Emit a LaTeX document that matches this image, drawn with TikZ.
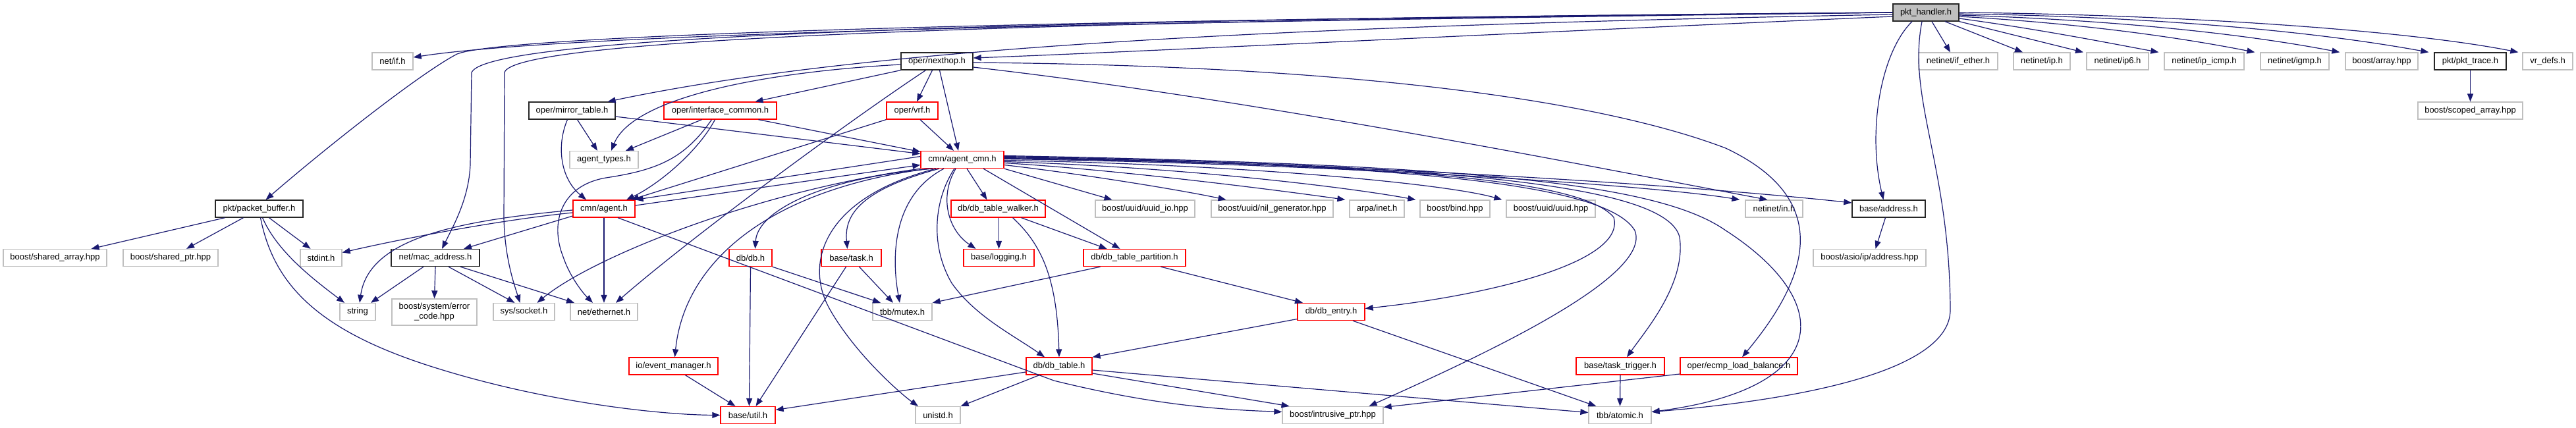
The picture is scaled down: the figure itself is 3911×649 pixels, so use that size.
\documentclass[tikz,border=0pt]{standalone}
\usepackage{fontspec}
\setmainfont{Liberation Sans}
\usetikzlibrary{arrows.meta}
\definecolor{ngray}{HTML}{BFBFBF}
\definecolor{nred}{HTML}{FF0000}
\definecolor{eblue}{HTML}{191970}
\tikzset{
  nd/.style={rectangle, line width=1.3pt, fill=white, inner sep=0pt, minimum height=26pt,
    font=\fontsize{13}{15}\selectfont, text=black},
  gb/.style={nd, draw=ngray},
  rb/.style={nd, draw=nred},
  kb/.style={nd, draw=black!85},
  rootb/.style={nd, draw=black!85, fill=ngray},
  lnk/.style={draw=eblue, line width=1.2pt, -{Triangle[length=12pt,width=9pt]}},
}
\begin{document}
\begin{tikzpicture}[x=1pt,y={(0pt,-1pt)}]
\path[use as bounding box, fill=white] (0,0) rectangle (3911,649);
% nodes
\node[rootb, minimum width=100pt] (P) at (2924,19) {pkt\_handler.h};
\node[gb, minimum width=62pt] (ifh) at (596,93) {net/if.h};
\node[kb, minimum width=109pt] (nh) at (1422.5,93) {oper/nexthop.h};
\node[gb, minimum width=120pt] (ifeth) at (2973,93) {netinet/if\_ether.h};
\node[gb, minimum width=86pt] (ip) at (3100,93) {netinet/ip.h};
\node[gb, minimum width=94pt] (ipsix) at (3215,93) {netinet/ip6.h};
\node[gb, minimum width=121pt] (icmp) at (3346.5,93) {netinet/ip\_icmp.h};
\node[gb, minimum width=104pt] (igmp) at (3484,93) {netinet/igmp.h};
\node[gb, minimum width=110pt] (barr) at (3616,93) {boost/array.hpp};
\node[kb, minimum width=109pt] (trace) at (3750.5,93) {pkt/pkt\_trace.h};
\node[gb, minimum width=76pt] (vrdefs) at (3868,93) {vr\_defs.h};
\node[kb, minimum width=131pt] (mt) at (868.5,168) {oper/mirror\_table.h};
\node[rb, minimum width=171pt] (ic) at (1093.5,168) {oper/interface\_common.h};
\node[rb, minimum width=78pt] (vrf) at (1385,168) {oper/vrf.h};
\node[gb, minimum width=159pt] (scoped) at (3750.5,168) {boost/scoped\_array.hpp};
\node[gb, minimum width=104pt] (types) at (917,242.5) {agent\_types.h};
\node[rb, minimum width=126pt] (C) at (1461,242.5) {cmn/agent\_cmn.h};
\node[kb, minimum width=133pt] (pb) at (393.5,317) {pkt/packet\_buffer.h};
\node[rb, minimum width=94pt] (ag) at (917,317) {cmn/agent.h};
\node[rb, minimum width=143pt] (walker) at (1515.5,317) {db/db\_table\_walker.h};
\node[gb, minimum width=151pt] (uuidio) at (1738.5,317) {boost/uuid/uuid\_io.hpp};
\node[gb, minimum width=185pt] (nilgen) at (1931.5,317) {boost/uuid/nil\_generator.hpp};
\node[gb, minimum width=83pt] (inet) at (2090.5,317) {arpa/inet.h};
\node[gb, minimum width=106pt] (bind) at (2209,317) {boost/bind.hpp};
\node[gb, minimum width=135pt] (uuid) at (2354.5,317) {boost/uuid/uuid.hpp};
\node[gb, minimum width=87pt] (inh) at (2693.5,317) {netinet/in.h};
\node[kb, minimum width=111pt] (addr) at (2867.5,317) {base/address.h};
\node[gb, minimum width=157pt] (sarr) at (83.5,391.5) {boost/shared\_array.hpp};
\node[gb, minimum width=144pt] (sptr) at (259,391.5) {boost/shared\_ptr.hpp};
\node[gb, minimum width=63pt] (stdint) at (487.5,391.5) {stdint.h};
\node[kb, minimum width=134pt] (mac) at (661,391.5) {net/mac\_address.h};
\node[rb, minimum width=65pt] (db) at (1139.5,391.5) {db/db.h};
\node[rb, minimum width=91pt] (task) at (1292.5,391.5) {base/task.h};
\node[rb, minimum width=107pt] (log) at (1516.5,391.5) {base/logging.h};
\node[rb, minimum width=155pt] (part) at (1722.5,391.5) {db/db\_table\_partition.h};
\node[gb, minimum width=171pt] (asio) at (2838.5,391.5) {boost/asio/ip/address.hpp};
\node[gb, minimum width=54pt] (str) at (543,473.5) {string};
\node[gb, minimum width=129pt, minimum height=40pt, align=center] (err) at (659.5,474) {boost/system/error\\\_code.hpp};
\node[gb, minimum width=93pt] (sock) at (795.5,473.5) {sys/socket.h};
\node[gb, minimum width=102pt] (eth) at (917,473.5) {net/ethernet.h};
\node[gb, minimum width=90pt] (mutex) at (1370,473.5) {tbb/mutex.h};
\node[rb, minimum width=102pt] (entry) at (2021,473.5) {db/db\_entry.h};
\node[rb, minimum width=135pt] (em) at (1022.5,556) {io/event\_manager.h};
\node[rb, minimum width=100pt] (dbt) at (1608,556) {db/db\_table.h};
\node[rb, minimum width=134pt] (tt) at (2460,556) {base/task\_trigger.h};
\node[rb, minimum width=178pt] (ecmp) at (2640,556) {oper/ecmp\_load\_balance.h};
\node[rb, minimum width=83pt] (util) at (1135.5,630.5) {base/util.h};
\node[gb, minimum width=68pt] (unistd) at (1424,630.5) {unistd.h};
\node[gb, minimum width=153pt] (iptr) at (2023.5,630.5) {boost/intrusive\_ptr.hpp};
\node[gb, minimum width=95pt] (atomic) at (2459.5,630.5) {tbb/atomic.h};
% edges from pkt_handler.h
\draw[lnk] (P.west) .. controls (2000,30) and (900,45) .. ([yshift=6pt]ifh.east);
\draw[lnk] (P.west) .. controls (1500,30) and (760,55) .. (694,82) .. controls (640,110) and (500,220) .. ([xshift=10pt]pb.north);
\draw[lnk] (P.west) .. controls (1500,30) and (740,55) .. (716,110) -- (714,250) .. controls (712,300) and (690,340) .. ([xshift=10pt]mac.north);
\draw[lnk] (P.west) .. controls (1500,32) and (780,60) .. (766,110) -- (765,330) .. controls (766,390) and (780,430) .. ([xshift=-6pt]sock.north);
\draw[lnk] ([yshift=-3pt]P.west) .. controls (1900,40) and (1300,75) .. ([xshift=-12pt]mt.north east);
\draw[lnk] ([yshift=-6pt]P.west) .. controls (2300,50) and (1700,80) .. ([yshift=5pt]nh.east);
\draw[lnk] ([xshift=-21pt]P.south) .. controls (2855,80) and (2835,200) .. ([xshift=-8pt]addr.north);
\draw[lnk] ([xshift=-6pt]P.south) .. controls (2895,150) and (2960,250) .. (2961,470) .. controls (2962,570) and (2700,610) .. ([yshift=5pt]atomic.east);
\draw[lnk] ([xshift=9pt]P.south) -- ([xshift=-12pt]ifeth.north);
\draw[lnk] ([xshift=29pt]P.south) -- ([xshift=-29pt]ip.north);
\draw[lnk] (P.south east) -- ([xshift=-52pt]ipsix.north);
\draw[lnk] ([yshift=-9pt]P.east) .. controls (3100,45) and (3200,65) .. ([xshift=-8pt]icmp.north west);
\draw[lnk] ([yshift=-6pt]P.east) .. controls (3150,35) and (3300,55) .. ([xshift=-8pt]igmp.north west);
\draw[lnk] ([yshift=-4pt]P.east) .. controls (3200,30) and (3400,50) .. ([xshift=-8pt]barr.north west);
\draw[lnk] ([yshift=-2pt]P.east) .. controls (3250,25) and (3500,45) .. ([xshift=-8pt]trace.north west);
\draw[lnk] (P.east) .. controls (3300,22) and (3650,45) .. ([xshift=-6pt]vrdefs.north west);
% oper/nexthop.h
\draw[lnk] ([yshift=-5pt]nh.west) .. controls (1150,110) and (960,150) .. ([xshift=11pt]types.north);
\draw[lnk] (nh.south west) -- ([xshift=53pt]ic.north);
\draw[lnk] ([xshift=-7pt]nh.south) -- ([xshift=7pt]vrf.north);
\draw[lnk] ([xshift=4pt]nh.south) -- ([xshift=-6pt]C.north);
\draw[lnk] ([xshift=-17pt]nh.south) .. controls (1280,190) and (1050,360) .. ([xshift=18pt]eth.north);
\draw[lnk] ([yshift=-2pt]nh.east) .. controls (2100,100) and (2450,160) .. (2620,225) .. controls (2800,310) and (2730,440) .. ([xshift=5pt]ecmp.north);
\draw[lnk] ([yshift=-9pt]nh.east) .. controls (1900,150) and (2400,250) .. ([xshift=-10pt]inh.north);
% oper/mirror_table.h
\draw[lnk] ([xshift=8pt]mt.south) -- ([xshift=-10pt]types.north);
\draw[lnk] ([xshift=-7pt]mt.south) .. controls (845,220) and (850,270) .. ([xshift=-27pt]ag.north);
\draw[lnk] ([yshift=-9pt]mt.east) -- ([yshift=9pt]C.west);
% oper/interface_common.h
\draw[lnk] ([xshift=-28pt]ic.south) -- ([xshift=33pt]types.north);
\draw[lnk] ([xshift=-8pt]ic.south) .. controls (1060,230) and (1000,280) .. ([xshift=34pt]ag.north);
\draw[lnk] ([xshift=-13pt]ic.south) .. controls (1040,240) and (1000,258) .. (920,270) .. controls (850,282) and (835,340) .. (855,390) .. controls (865,420) and (885,445) .. ([xshift=-17pt]eth.north);
\draw[lnk] ([xshift=58pt]ic.south) -- ([yshift=12pt]C.west);
% oper/vrf.h
\draw[lnk] (vrf.south west) -- ([xshift=41pt]ag.north);
\draw[lnk] ([xshift=12pt]vrf.south) -- ([xshift=-13pt]C.north);
% cmn/agent_cmn.h <-> cmn/agent.h
\draw[lnk] ([yshift=5pt]C.west) -- (ag.north east);
\draw[lnk] ([yshift=5pt]ag.east) -- ([yshift=-8pt]C.west);
% cmn/agent_cmn.h
\draw[lnk] (C.south west) .. controls (1150,290) and (900,390) .. ([xshift=20pt]sock.north);
\draw[lnk] ([xshift=-50pt]C.south) .. controls (1180,285) and (1040,390) .. ([xshift=2pt]em.north);
\draw[lnk] ([xshift=-45pt]C.south) .. controls (1250,270) and (1150,320) .. ([xshift=7pt]db.north);
\draw[lnk] ([xshift=-40pt]C.south) .. controls (1250,300) and (1220,400) .. (1260,470) .. controls (1300,540) and (1370,600) .. ([xshift=-30pt]unistd.north);
\draw[lnk] ([xshift=-35pt]C.south) .. controls (1300,290) and (1282,330) .. ([xshift=-6pt]task.north);
\draw[lnk] ([xshift=-28pt]C.south) .. controls (1350,300) and (1355,400) .. ([xshift=-4pt]mutex.north);
\draw[lnk] ([xshift=-12pt]C.south) .. controls (1420,300) and (1410,370) .. (1445,430) .. controls (1480,480) and (1540,510) .. ([xshift=-22pt]dbt.north);
\draw[lnk] ([xshift=-10pt]C.south) .. controls (1425,300) and (1440,350) .. ([xshift=-35pt]log.north);
\draw[lnk] ([xshift=7pt]C.south) -- ([xshift=-17pt]walker.north);
\draw[lnk] ([xshift=32pt]C.south) -- ([xshift=-22pt]part.north);
\draw[lnk] (C.south east) -- ([xshift=-50pt]uuidio.north);
\draw[lnk] ([yshift=-8pt]C.east) .. controls (1650,265) and (1800,290) .. ([xshift=-70pt]nilgen.north);
\draw[lnk] ([yshift=-5pt]C.east) .. controls (1700,258) and (1950,290) .. ([xshift=-6pt]inet.north west);
\draw[lnk] ([yshift=-3pt]C.east) .. controls (1800,254) and (2050,285) .. ([xshift=-6pt]bind.north west);
\draw[lnk] ([yshift=-1pt]C.east) .. controls (1900,250) and (2200,280) .. ([xshift=-6pt]uuid.north west);
\draw[lnk] ([yshift=1pt]C.east) .. controls (2000,248) and (2500,280) .. ([xshift=-8pt]inh.north west);
\draw[lnk] ([yshift=2pt]C.east) .. controls (2100,248) and (2600,285) .. ([yshift=9pt]addr.west);
\draw[lnk] ([yshift=3pt]C.east) .. controls (2100,250) and (2400,270) .. (2450,330) .. controls (2470,400) and (2250,450) .. ([yshift=5pt]entry.east);
\draw[lnk] ([yshift=4pt]C.east) .. controls (2150,250) and (2440,280) .. (2482,350) .. controls (2510,420) and (2250,540) .. ([xshift=55pt]iptr.north);
\draw[lnk] ([yshift=5pt]C.east) .. controls (2200,250) and (2530,280) .. (2550,360) .. controls (2560,430) and (2500,500) .. ([xshift=10pt]tt.north);
\draw[lnk] ([yshift=6pt]C.east) .. controls (2250,250) and (2520,280) .. (2620,350) .. controls (2790,460) and (2780,590) .. ([yshift=5pt]atomic.east);
% cmn/agent.h
\draw[lnk] ([yshift=-2pt]ag.west) .. controls (700,335) and (560,360) .. ([xshift=3pt]str.north);
\draw[lnk] ([yshift=-6pt]ag.west) .. controls (750,335) and (600,365) .. ([yshift=8pt]stdint.east);
\draw[lnk] ([yshift=-11pt]ag.west) -- ([xshift=43pt]mac.north);
\draw[lnk] (ag.south) -- (eth.north);
\draw[lnk] ([xshift=21pt]ag.south) -- (1600,578) .. controls (1750,615) and (1850,622) .. ([yshift=5pt]iptr.west);
% pkt/packet_buffer.h
\draw[lnk] ([xshift=-52pt]pb.south) -- ([xshift=55pt]sarr.north);
\draw[lnk] ([xshift=-24pt]pb.south) -- ([xshift=24pt]sptr.north);
\draw[lnk] ([xshift=15pt]pb.south) -- ([xshift=-16pt]stdint.north);
\draw[lnk] ([xshift=5pt]pb.south) .. controls (420,380) and (470,420) .. ([xshift=-20pt]str.north);
\draw[lnk] ([xshift=2pt]pb.south) .. controls (415,430) and (480,500) .. (650,555) .. controls (820,610) and (1000,630) .. (util.west);
% net/mac_address.h
\draw[lnk] ([xshift=-18pt]mac.south) -- ([xshift=20pt]str.north);
\draw[lnk] (mac.south) -- (err.north);
\draw[lnk] ([xshift=20pt]mac.south) -- ([xshift=-14pt]sock.north);
\draw[lnk] ([xshift=38pt]mac.south) -- ([xshift=-45pt]eth.north);
% db/db.h, base/task.h, io/event_manager.h
\draw[lnk] (db.south) -- ([xshift=2pt]util.north);
\draw[lnk] (db.south east) -- ([xshift=-33pt]mutex.north);
\draw[lnk] ([xshift=-8pt]task.south) -- ([xshift=12pt]util.north);
\draw[lnk] ([xshift=12pt]task.south) -- ([xshift=-14pt]mutex.north);
\draw[lnk] ([xshift=18pt]em.south) -- ([xshift=-19pt]util.north);
% db/db_table_walker.h
\draw[lnk] ([xshift=1pt]walker.south) -- (log.north);
\draw[lnk] ([xshift=35pt]walker.south) -- ([xshift=-42pt]part.north);
\draw[lnk] ([xshift=22pt]walker.south) .. controls (1580,370) and (1605,420) .. (dbt.north);
% db/db_table_partition.h
\draw[lnk] ([xshift=40pt]part.south) -- ([xshift=-43pt]entry.north);
\draw[lnk] ([xshift=-52pt]part.south) -- (mutex.north east);
% db/db_entry.h
\draw[lnk] ([yshift=-11pt]entry.west) -- (dbt.north east);
\draw[lnk] ([xshift=33pt]entry.south) -- ([xshift=12pt]atomic.north west);
% db/db_table.h
\draw[lnk] ([yshift=-9pt]dbt.west) -- ([yshift=8pt]util.east);
\draw[lnk] ([xshift=-30pt]dbt.south) -- (unistd.north east);
\draw[lnk] ([yshift=-11pt]dbt.east) -- ([xshift=-66pt]iptr.north);
\draw[lnk] ([yshift=-6pt]dbt.east) -- ([yshift=4pt]atomic.west);
% others
\draw[lnk] (tt.south) -- (atomic.north);
\draw[lnk] ([yshift=-12pt]ecmp.west) -- ([yshift=12pt]iptr.east);
\draw[lnk] ([xshift=-5pt]addr.south) -- ([xshift=9pt]asio.north);
\draw[lnk] (trace.south) -- (scoped.north);
\end{tikzpicture}
\end{document}
